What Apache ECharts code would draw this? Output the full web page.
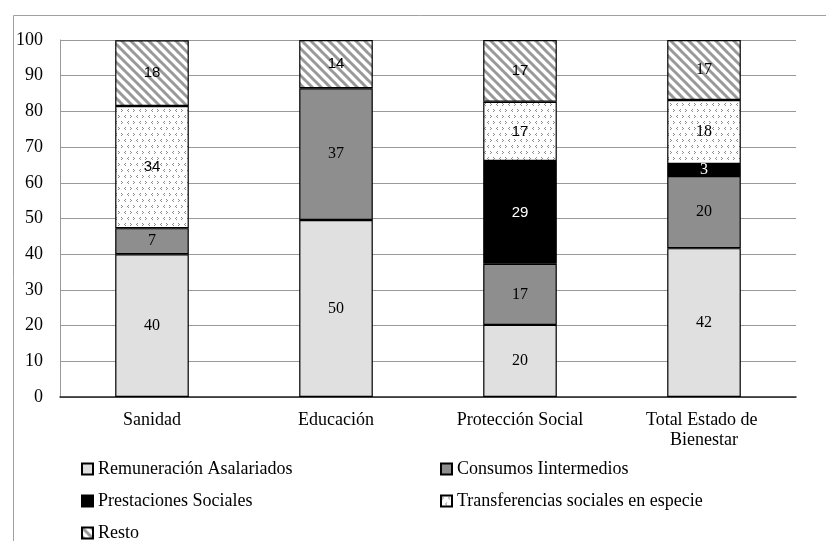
<!DOCTYPE html>
<html><head><meta charset="utf-8">
<script src="https://cdn.jsdelivr.net/npm/echarts@6/dist/echarts.min.js"></script>
<style>html,body{margin:0;padding:0;background:#fff}#c{width:826px;height:541px}</style>
</head><body><div id="c"></div>
<script>
const categories = ['Sanidad', 'Educación', 'Protección Social', 'Total Estado de Bienestar'];
const remuneracion = [40.0, 49.6, 20.2, 41.7];
const consumos = [7.3, 36.9, 17.1, 20.2];
const prestaciones = [0, 0, 28.8, 3.4];
const transferencias = [34.2, 0, 16.6, 17.9];
const resto = [18.4, 13.5, 17.3, 16.8];
const seriesNames = ['Remuneración Asalariados', 'Consumos Iintermedios', 'Prestaciones Sociales', 'Transferencias sociales en especie', 'Resto'];
const yMin = 0, yMax = 100, yStep = 10;

function stripeTile() {
  const c = document.createElement('canvas'); c.width = 9; c.height = 9;
  const g = c.getContext('2d');
  g.fillStyle = '#fff'; g.fillRect(0, 0, 9, 9);
  g.strokeStyle = '#999'; g.lineWidth = 3;
  [-9, 0, 9].forEach(o => { g.beginPath(); g.moveTo(o - 1, -1); g.lineTo(o + 10, 10); g.stroke(); });
  return c;
}
function dotTile() {
  const c = document.createElement('canvas'); c.width = 12; c.height = 12;
  const g = c.getContext('2d');
  g.fillStyle = '#fff'; g.fillRect(0, 0, 12, 12);
  g.fillStyle = '#8a8a8a';
  // ">" glyph
  g.fillRect(1, 1, 1, 1); g.fillRect(2, 2, 1, 1); g.fillRect(1, 3, 1, 1);
  // "<" glyph
  g.fillRect(8, 1, 1, 1); g.fillRect(7, 2, 1, 1); g.fillRect(8, 3, 1, 1);
  // offset row
  g.fillRect(5, 7, 1, 1); g.fillRect(4, 8, 1, 1); g.fillRect(5, 9, 1, 1);
  g.fillRect(10, 7, 1, 1); g.fillRect(11, 8, 1, 1); g.fillRect(10, 9, 1, 1);
  return c;
}
const fills = [
  '#e0e0e0',
  '#8e8e8e',
  '#000000',
  { image: dotTile(), repeat: 'repeat' },
  { image: stripeTile(), repeat: 'repeat' }
];
const labelColors = ['#000', '#000', '#fff', '#000', '#000'];
// which labels in the original are drawn in a sans face
const sansLabels = [[], [], [2], [0, 2], [0, 1, 2]];
const values = [remuneracion, consumos, prestaciones, transferencias, resto];

const chart = echarts.init(document.getElementById('c'), null, { renderer: 'canvas' });
const serif = "'Liberation Serif', 'Times New Roman', serif";
const sans = "'Liberation Sans', Arial, sans-serif";

const series = seriesNames.map((name, si) => ({
  name, type: 'bar', stack: 'total', barWidth: '40%',
  itemStyle: { color: fills[si], borderColor: '#000', borderWidth: 1.2 },
  label: {
    show: true, position: 'inside', color: labelColors[si], fontFamily: serif, fontSize: 16,
    formatter: p => p.value ? String(Math.round(p.value)) : ''
  },
  emphasis: { disabled: true },
  data: values[si].map((v, ci) => {
    if (!v) return '-';
    const o = { value: v };
    if (sansLabels[si].includes(ci)) o.label = { fontFamily: sans, fontSize: 15 };
    return o;
  })
}));

const legendPos = [[81, 460], [440, 460], [81, 492], [440, 492], [81, 524]];
const legends = seriesNames.map((n, i) => ({
  data: [n], left: legendPos[i][0], top: legendPos[i][1], padding: 0,
  icon: 'rect', itemWidth: 11, itemHeight: 11, selectedMode: false,
  textStyle: { fontFamily: serif, fontSize: 18, color: '#000' }
}));

chart.setOption({
  animation: false,
  backgroundColor: '#fff',
  textStyle: { fontFamily: serif },
  grid: { left: 60, right: 30, top: 40, bottom: 144 },
  legend: legends,
  graphic: [{
    type: 'rect', silent: true, z: -1,
    shape: { x: 13.5, y: 15.5, width: 900, height: 700 },
    style: { fill: 'none', stroke: '#a0a0a0', lineWidth: 1 }
  }],
  xAxis: {
    type: 'category', data: categories,
    axisLine: { lineStyle: { color: '#222', width: 1.5 } },
    axisTick: { show: false },
    axisLabel: { interval: 0, margin: 13, fontFamily: serif, fontSize: 18, color: '#000', width: 170, overflow: 'break', lineHeight: 20 }
  },
  yAxis: {
    type: 'value', min: yMin, max: yMax, interval: yStep,
    axisLine: { show: true, lineStyle: { color: '#999', width: 1 } },
    axisTick: { show: false },
    splitLine: { lineStyle: { color: '#999', width: 1 } },
    axisLabel: { margin: 17, fontFamily: serif, fontSize: 18, color: '#000' }
  },
  series
});
</script>
</body></html>
